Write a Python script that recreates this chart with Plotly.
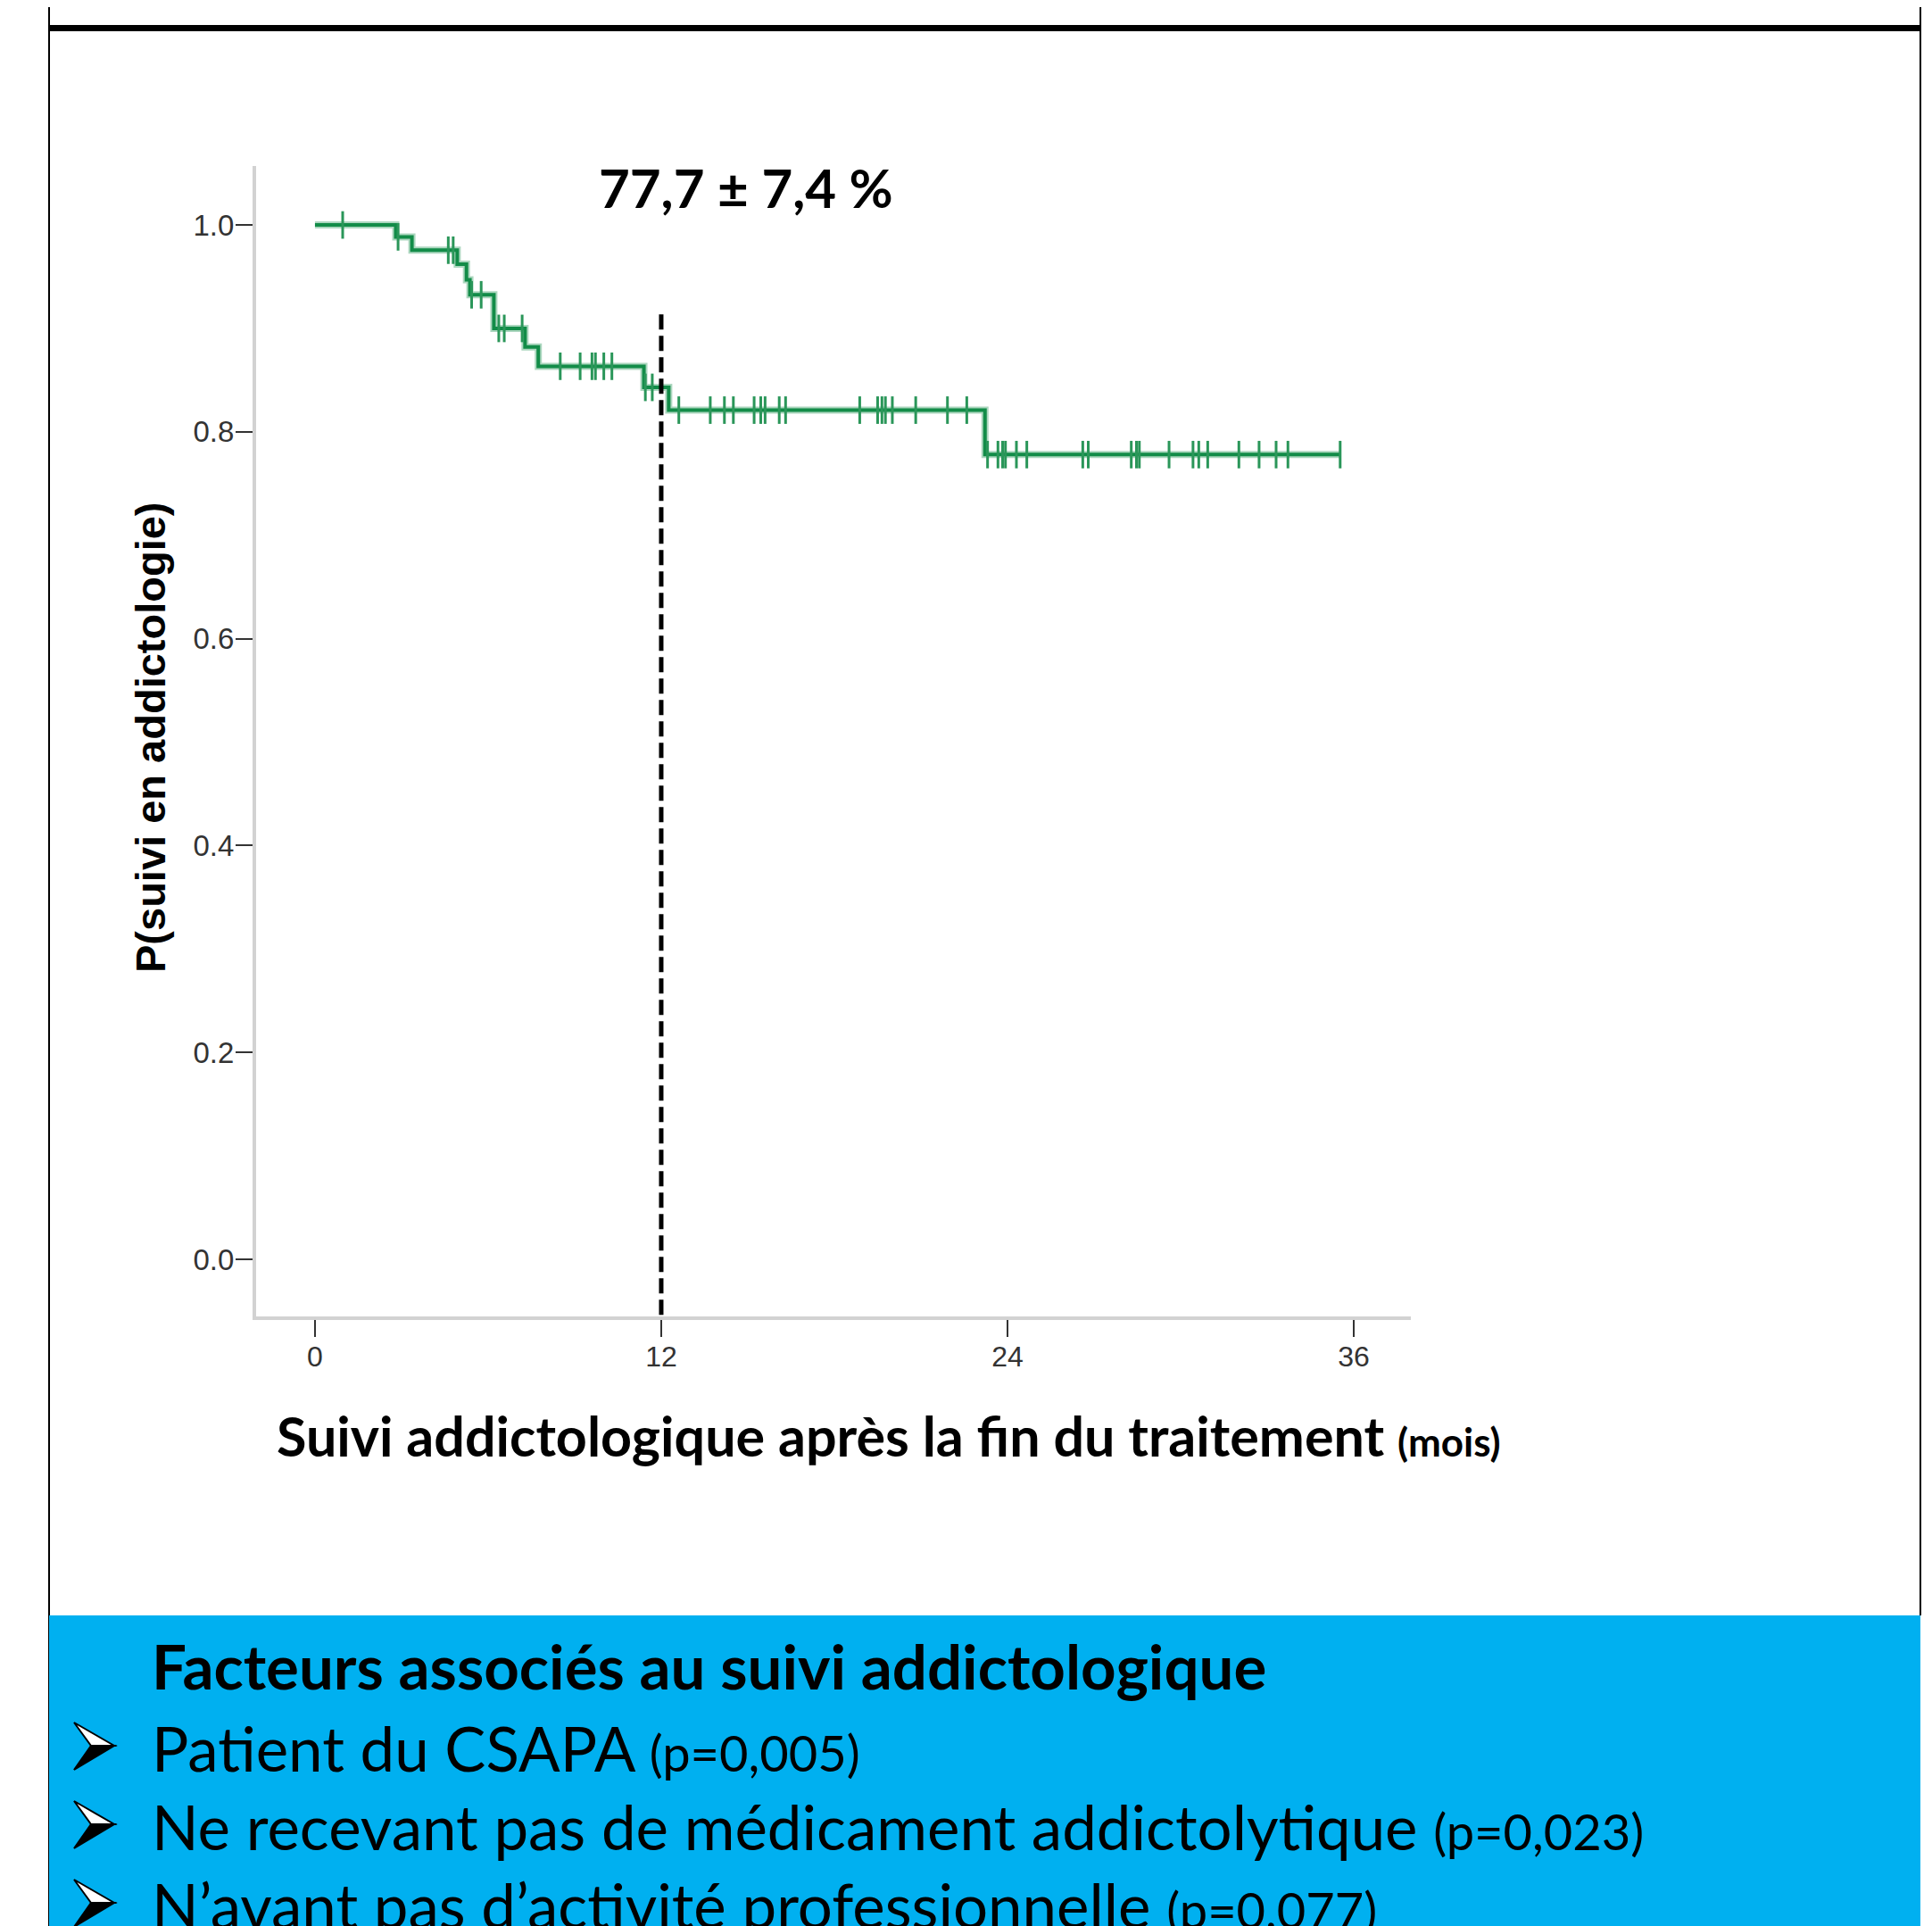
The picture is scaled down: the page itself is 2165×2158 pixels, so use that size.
import plotly.graph_objects as go

# ---------------- data ----------------
step_times = [0.0, 2.80, 3.36, 4.93, 5.25, 5.37, 6.20, 7.28, 7.74, 11.40, 12.26, 23.22, 35.53]
step_surv = [1.000, 0.9885, 0.9756, 0.962, 0.947, 0.9325, 0.900, 0.882, 0.8634, 0.843, 0.821, 0.778, 0.778]

censor_times = [0.96, 2.88, 4.62, 4.79, 5.43, 5.76, 6.37, 6.56, 7.18,
                8.50, 9.19, 9.60, 9.72, 10.01, 10.29, 11.45, 11.69,
                12.61, 13.70, 14.19, 14.50, 15.22, 15.45, 15.60, 16.09, 16.31,
                18.88, 19.50, 19.65, 19.77, 20.01, 20.82, 21.92, 22.59,
                23.31, 23.67, 23.83, 23.93, 24.31, 24.67, 26.61, 26.80,
                28.29, 28.47, 28.57, 29.60, 30.43, 30.63, 30.94, 32.02,
                32.72, 33.31, 33.72, 35.53]

x_tickvals = [0, 12, 24, 36]
x_ticktext = ["0", "12", "24", "36"]
y_tickvals = [0.0, 0.2, 0.4, 0.6, 0.8, 1.0]
y_ticktext = ["0.0", "0.2", "0.4", "0.6", "0.8", "1.0"]

landmark_month = 12
landmark_label = "77,7 ± 7,4 %"
y_title = "P(suivi en addictologie)"
x_title_main = "Suivi addictologique après la fin du traitement"
x_title_unit = "(mois)"
box_title = "Facteurs associés au suivi addictologique"
factors = ["Patient du CSAPA", "Ne recevant pas de médicament addictolytique",
           "N’avant pas d’activité professionnelle"]
factor_p = ["(p=0,005)", "(p=0,023)", "(p=0,077)"]


def surv_at(t):
    s = step_surv[0]
    for tt, ss in zip(step_times, step_surv):
        if tt <= t:
            s = ss
    return s


censor_surv = [surv_at(t) for t in censor_times]

# ---------------- layout geometry (screen pixels) ----------------
W, H = 2165, 2158
OFF = 8                      # page body margin
L, R, T, B = 287, 1581, 186, 1475
XR = [-2.04, 37.98]
YR = [-0.0552, 1.057]


def px(x):
    return (x - L) / (R - L)


def py(y):
    return (B - y) / (B - T)


GREEN = "#128c48"
CENSOR_GREEN = "#2a9659"

fig = go.Figure()
fig.add_trace(go.Scatter(x=step_times, y=step_surv, mode="lines",
                         line=dict(color="rgba(18,140,72,0.35)", width=8, shape="hv"),
                         hoverinfo="skip", showlegend=False))
fig.add_trace(go.Scatter(x=step_times, y=step_surv, mode="lines",
                         line=dict(color=GREEN, width=4, shape="hv"),
                         showlegend=False))
fig.add_trace(go.Scatter(x=censor_times, y=censor_surv, mode="markers",
                         marker=dict(symbol="line-ns-open", size=22, color=CENSOR_GREEN,
                                     line=dict(color=CENSOR_GREEN, width=3)),
                         showlegend=False))

fig.update_layout(
    width=W, height=H, autosize=False,
    margin=dict(l=L - OFF, r=W - (R - OFF), t=T - OFF, b=H - (B - OFF), pad=0),
    paper_bgcolor="white", plot_bgcolor="white",
    xaxis=dict(range=XR, tickvals=x_tickvals, ticktext=x_ticktext,
               showgrid=False, zeroline=False, showline=True, linecolor="#d2d2d2", linewidth=4,
               ticks="outside", ticklen=19, tickwidth=2, tickcolor="#333333",
               ticklabelstandoff=-5,
               tickfont=dict(family="Liberation Sans, Arial", size=32, color="#333333")),
    yaxis=dict(range=YR, tickvals=y_tickvals, ticktext=y_ticktext,
               showgrid=False, zeroline=False, showline=True, linecolor="#d2d2d2", linewidth=4,
               ticks="outside", ticklen=19, tickwidth=2, tickcolor="#333333",
               ticklabelstandoff=-5,
               tickfont=dict(family="Liberation Sans, Arial", size=33, color="#333333")),
)

# dashed landmark line at 12 months
fig.add_shape(type="line", xref="x", yref="y", x0=landmark_month, x1=landmark_month,
              y0=0.9135, y1=YR[0], line=dict(color="black", width=5, dash="17px,7px"))

shapes = [
    dict(type="line", xref="paper", yref="paper", x0=px(55), x1=px(55), y0=py(0), y1=py(H + 10),
         line=dict(color="black", width=2)),
    dict(type="line", xref="paper", yref="paper", x0=px(2152), x1=px(2152), y0=py(0), y1=py(1810),
         line=dict(color="black", width=2)),
    dict(type="rect", xref="paper", yref="paper", x0=px(55), x1=px(2152), y0=py(28), y1=py(35),
         fillcolor="black", line=dict(width=0)),
    dict(type="rect", xref="paper", yref="paper", x0=px(55), x1=px(2152), y0=py(1810), y1=py(H + 20),
         fillcolor="#00B0F0", line=dict(width=0)),
]
for s in shapes:
    fig.add_shape(**s)


def ppath(points):
    return "M " + " L ".join(f"{px(a)},{py(b)}" for a, b in points) + " Z"


bullet_y = [1958, 2046, 2134]
for yy in bullet_y:
    top = (83, yy - 28)
    tip = (128, yy - 2)
    notch = (102, yy - 2)
    bot = (83, yy + 25)
    fig.add_shape(type="path", xref="paper", yref="paper", path=ppath([top, tip, notch]),
                  fillcolor="white", line=dict(color="black", width=2))
    fig.add_shape(type="path", xref="paper", yref="paper", path=ppath([notch, tip, bot]),
                  fillcolor="black", line=dict(color="black", width=2))

ann = []
CAL = "Lato, Open Sans, sans-serif"
ann.append(dict(x=px(836), y=py(210), text=f"<b>{landmark_label}</b>",
                font=dict(family=CAL, size=60, color="black")))
ann.append(dict(x=px(996), y=py(1608),
                text=f"<b>{x_title_main} <span style='font-size:44px'>{x_title_unit}</span></b>",
                font=dict(family=CAL, size=61, color="black")))
ann.append(dict(x=px(168), y=py(826), text=f"<b>{y_title}</b>", textangle=-90,
                font=dict(family="Liberation Sans, Arial", size=47, color="black")))
ann.append(dict(x=px(168), y=py(1866), text=f"<b>{box_title}</b>", xanchor="left",
                font=dict(family=CAL, size=69, color="black")))
for yy, f, p in zip(bullet_y, factors, factor_p):
    ann.append(dict(x=px(168), y=py(yy), text=f"{f} <span style='font-size:56px'>{p}</span>",
                    xanchor="left", font=dict(family=CAL, size=69, color="black")))

for a in ann:
    a.setdefault("xanchor", "center")
    a.setdefault("yanchor", "middle")
    fig.add_annotation(xref="paper", yref="paper", showarrow=False, **a)

fig.write_html("out.html")
